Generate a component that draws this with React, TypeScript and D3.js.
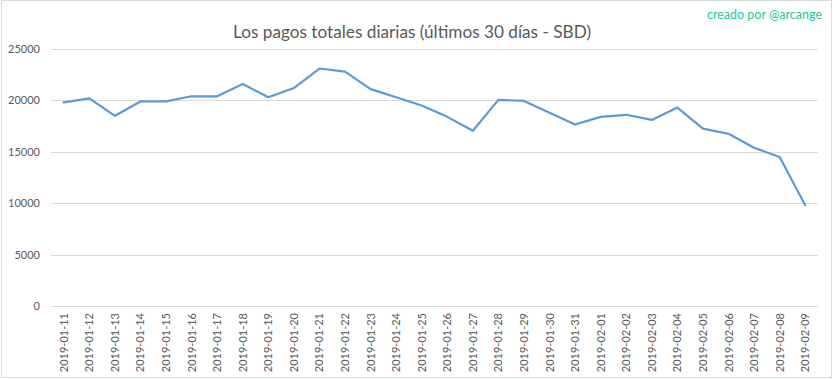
import React from "react";
import * as d3 from "d3";

const dates = [
  "2019-01-11","2019-01-12","2019-01-13","2019-01-14","2019-01-15","2019-01-16","2019-01-17","2019-01-18","2019-01-19","2019-01-20",
  "2019-01-21","2019-01-22","2019-01-23","2019-01-24","2019-01-25","2019-01-26","2019-01-27","2019-01-28","2019-01-29","2019-01-30",
  "2019-01-31","2019-02-01","2019-02-02","2019-02-03","2019-02-04","2019-02-05","2019-02-06","2019-02-07","2019-02-08","2019-02-09",
];
const payouts = [
  19800, 20200, 18500, 19900, 19900, 20400, 20400, 21600, 20300, 21200,
  23100, 22800, 21100, 20300, 19500, 18400, 17050, 20050, 19950, 18800,
  17650, 18400, 18600, 18100, 19300, 17250, 16750, 15400, 14500, 9800,
];
const yTicks = [0, 5000, 10000, 15000, 20000, 25000];
const title = "Los pagos totales diarias (últimos 30 días - SBD)";
const credit = "creado por @arcange";

const W = 833, H = 379;
const M = { left: 51, right: 818, top: 49, bottom: 306 };
const FONT = "Lato, 'Open Sans', sans-serif";

export default function App() {
  const x = d3.scaleBand<string>().domain(dates).range([M.left, M.right]);
  const y = d3.scaleLinear().domain([0, 25000]).range([M.bottom, M.top]);
  const line = d3.line<number>()
    .x((_, i) => (x(dates[i]) as number) + x.bandwidth() / 2)
    .y((d) => y(d));
  return (
    <svg width={W} height={H} style={{ position: "absolute", left: 0, top: 0, background: "#fff" }}>
      <rect x={1.5} y={0.5} width={830} height={377} fill="#fff" stroke="#d9d9d9" />
      <text x={412} y={38} textAnchor="middle" fontFamily={FONT} fontSize={17.2} fill="#595959">{title}</text>
      <text x={822} y={19} textAnchor="end" fontFamily={FONT} fontSize={12.5} fill="#20c8a0">{credit}</text>
      {yTicks.map((t) => (
        <g key={t}>
          <line x1={M.left} x2={M.right} y1={Math.round(y(t)) + 0.5} y2={Math.round(y(t)) + 0.5} stroke="#d9d9d9" strokeWidth={1} />
          <text x={40} y={y(t) + 4} textAnchor="end" fontFamily={FONT} fontSize={11} fill="#595959">{t}</text>
        </g>
      ))}
      {dates.map((d) => {
        const cx = (x(d) as number) + x.bandwidth() / 2;
        return (
          <text key={d} transform={`translate(${cx + 4},313) rotate(-90)`} textAnchor="end" fontFamily={FONT} fontSize={11} fill="#595959">{d}</text>
        );
      })}
      <path d={line(payouts) || ""} fill="none" stroke="#5b9bd5" strokeWidth={2.2} strokeLinejoin="round" strokeLinecap="round" />
    </svg>
  );
}
